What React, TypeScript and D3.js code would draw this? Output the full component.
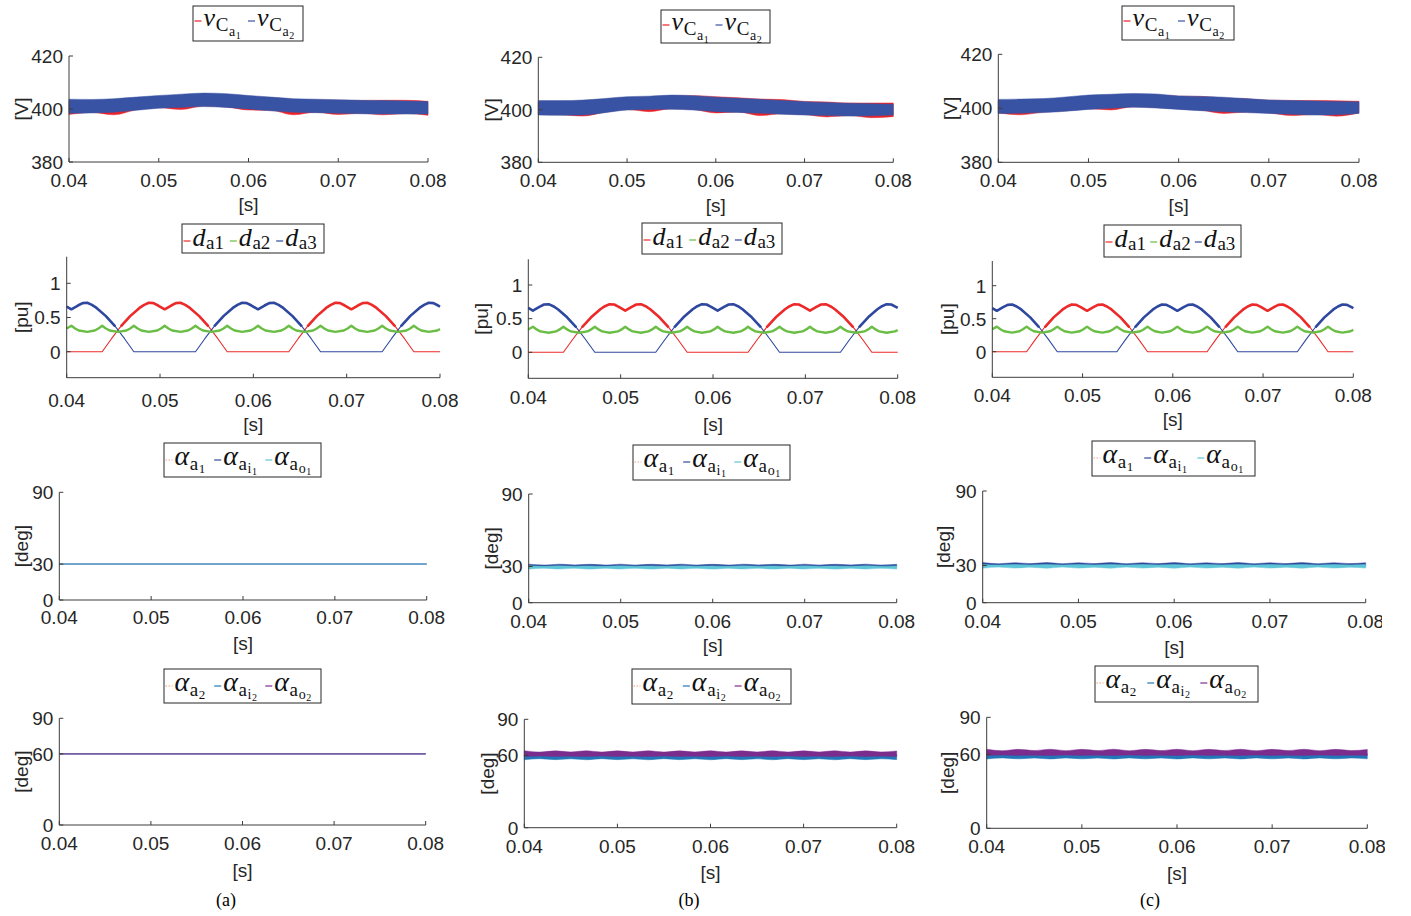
import React, { useEffect, useRef } from "react";
import * as d3 from "d3";

// ---------------- tick labels ----------------
const timeTicks = [0.04, 0.05, 0.06, 0.07, 0.08];
const voltTicks = [380, 400, 420];
const dutyTicks = [0, 0.5, 1];
const alpha1Ticks = [0, 30, 90];
const alpha2Ticks = [0, 60, 90];
const captions = ["(a)", "(b)", "(c)"];

// ---------------- capacitor voltage envelopes (every 2.5 ms) ----------------
const vTime = [0.04, 0.0425, 0.045, 0.0475, 0.05, 0.0525, 0.055, 0.0575, 0.06, 0.0625, 0.065, 0.0675, 0.07, 0.0725, 0.075, 0.0775, 0.08];
// column (a)
const vC1HiA = [403.1, 403.2, 403.4, 403.9, 404.6, 405.0, 405.4, 405.3, 404.8, 404.2, 403.6, 403.4, 403.3, 403.2, 403.3, 403.3, 402.9];
const vC1LoA = [397.9, 398.7, 397.8, 399.7, 400.5, 399.8, 401.1, 400.8, 399.6, 399.5, 397.8, 398.8, 397.9, 398.4, 397.8, 398.3, 397.6];
const vC2HiA = [403.7, 403.6, 403.9, 404.5, 405.1, 405.6, 406.0, 405.8, 405.1, 404.5, 403.9, 403.7, 403.5, 403.3, 403.2, 403.0, 402.8];
const vC2LoA = [398.4, 398.5, 398.8, 399.5, 400.3, 400.6, 400.9, 400.6, 400.0, 399.3, 398.8, 398.6, 398.4, 398.2, 398.1, 398.1, 398.1];
// column (b)
const vC1HiB = [403.0, 403.1, 403.3, 404.0, 404.6, 404.9, 405.3, 405.4, 405.0, 404.6, 404.1, 403.9, 403.2, 403.0, 402.6, 402.6, 402.6];
const vC1LoB = [398.2, 398.1, 397.6, 399.1, 400.1, 399.3, 400.4, 400.1, 398.8, 399.2, 397.8, 398.5, 398.2, 397.3, 397.8, 397.0, 397.4];
const vC2HiB = [403.5, 403.5, 403.7, 404.3, 405.0, 405.2, 405.6, 405.4, 404.8, 404.4, 404.0, 403.5, 403.1, 402.8, 402.5, 402.3, 402.1];
const vC2LoB = [398.0, 397.9, 398.0, 398.9, 399.9, 400.1, 400.2, 399.9, 399.3, 399.0, 398.7, 398.3, 398.0, 397.8, 397.6, 397.7, 398.0];
// column (c)
const vC1HiC = [402.8, 402.9, 403.1, 403.7, 404.4, 404.8, 405.1, 405.0, 404.5, 404.4, 403.8, 403.5, 403.0, 402.9, 402.9, 402.8, 402.6];
const vC1LoC = [398.3, 397.6, 398.6, 399.1, 399.8, 399.4, 400.6, 400.3, 399.8, 399.3, 398.1, 398.6, 398.3, 397.3, 397.7, 397.1, 398.3];
const vC2HiC = [403.3, 403.4, 403.6, 404.2, 404.9, 405.2, 405.5, 405.3, 404.6, 404.4, 404.1, 403.6, 403.1, 402.9, 402.7, 402.5, 402.4];
const vC2LoC = [398.1, 398.2, 398.4, 398.9, 399.6, 400.0, 400.4, 400.1, 399.6, 399.1, 398.7, 398.4, 398.1, 397.8, 397.5, 397.6, 398.1];

// ---------------- duty cycles [t, pu] ----------------
const dutyA1: [number, number][] = [
  [0.04, 0], [0.0438, 0], [0.0448, 0.19], [0.0458, 0.37], [0.0468, 0.52], [0.0478, 0.64], [0.0483, 0.685], [0.0488, 0.715],
  [0.0493, 0.71], [0.0498, 0.675], [0.0505, 0.62], [0.0512, 0.675], [0.0517, 0.71], [0.0522, 0.715], [0.0527, 0.685],
  [0.0532, 0.64], [0.0542, 0.52], [0.0552, 0.37], [0.0562, 0.19], [0.0572, 0], [0.0638, 0], [0.0648, 0.19], [0.0658, 0.37],
  [0.0668, 0.52], [0.0678, 0.64], [0.0683, 0.685], [0.0688, 0.715], [0.0693, 0.71], [0.0698, 0.675], [0.0705, 0.62],
  [0.0712, 0.675], [0.0717, 0.71], [0.0722, 0.715], [0.0727, 0.685], [0.0732, 0.64], [0.0742, 0.52], [0.0752, 0.37],
  [0.0762, 0.19], [0.0772, 0], [0.08, 0],
];
const dutyA2: [number, number][] = [
  [0.04, 0.34], [0.0405, 0.38], [0.0409, 0.34], [0.0413, 0.31], [0.0422, 0.29], [0.043, 0.31], [0.0434, 0.34], [0.0438, 0.38],
  [0.0442, 0.34], [0.0446, 0.31], [0.0455, 0.29], [0.0464, 0.31], [0.0468, 0.34], [0.0472, 0.38], [0.0476, 0.34], [0.048, 0.31],
  [0.0488, 0.29], [0.0497, 0.31], [0.0501, 0.34], [0.0505, 0.38], [0.0509, 0.34], [0.0513, 0.31], [0.0522, 0.29], [0.053, 0.31],
  [0.0534, 0.34], [0.0538, 0.38], [0.0542, 0.34], [0.0546, 0.31], [0.0555, 0.29], [0.0564, 0.31], [0.0568, 0.34], [0.0572, 0.38],
  [0.0576, 0.34], [0.058, 0.31], [0.0588, 0.29], [0.0597, 0.31], [0.0601, 0.34], [0.0605, 0.38], [0.0609, 0.34], [0.0613, 0.31],
  [0.0622, 0.29], [0.063, 0.31], [0.0634, 0.34], [0.0638, 0.38], [0.0642, 0.34], [0.0646, 0.31], [0.0655, 0.29], [0.0664, 0.31],
  [0.0668, 0.34], [0.0672, 0.38], [0.0676, 0.34], [0.068, 0.31], [0.0688, 0.29], [0.0697, 0.31], [0.0701, 0.34], [0.0705, 0.38],
  [0.0709, 0.34], [0.0713, 0.31], [0.0722, 0.29], [0.073, 0.31], [0.0734, 0.34], [0.0738, 0.38], [0.0742, 0.34], [0.0746, 0.31],
  [0.0755, 0.29], [0.0764, 0.31], [0.0768, 0.34], [0.0772, 0.38], [0.0776, 0.34], [0.078, 0.31], [0.0788, 0.29], [0.0797, 0.31],
  [0.08, 0.33],
];
const dutyA3: [number, number][] = [
  [0.04, 0.66], [0.0405, 0.62], [0.0412, 0.675], [0.0417, 0.71], [0.0422, 0.715], [0.0427, 0.685], [0.0432, 0.64], [0.0442, 0.52],
  [0.0452, 0.37], [0.0462, 0.19], [0.0472, 0], [0.0538, 0], [0.0548, 0.19], [0.0558, 0.37], [0.0568, 0.52], [0.0578, 0.64],
  [0.0583, 0.685], [0.0588, 0.715], [0.0593, 0.71], [0.0598, 0.675], [0.0605, 0.62], [0.0612, 0.675], [0.0617, 0.71],
  [0.0622, 0.715], [0.0627, 0.685], [0.0632, 0.64], [0.0642, 0.52], [0.0652, 0.37], [0.0662, 0.19], [0.0672, 0], [0.0738, 0],
  [0.0748, 0.19], [0.0758, 0.37], [0.0768, 0.52], [0.0778, 0.64], [0.0783, 0.685], [0.0788, 0.715], [0.0793, 0.71],
  [0.0798, 0.675], [0.08, 0.66],
];

// ---------------- angles ----------------
const alphaRef1: [number, number][] = [[0.04, 30], [0.08, 30]];
const alphaRef2: [number, number][] = [[0.04, 60], [0.08, 60]];
const alphaIn1A: [number, number][] = [[0.04, 30], [0.08, 30]];
const alphaOut1A: [number, number][] = [[0.04, 30], [0.08, 30]];
const alphaIn2A: [number, number][] = [[0.04, 60], [0.08, 60]];
const alphaOut2A: [number, number][] = [[0.04, 60], [0.08, 60]];

const alphaTime = [0.04, 0.04167, 0.04333, 0.045, 0.04667, 0.04833, 0.05, 0.05167, 0.05333, 0.055, 0.05667, 0.05833, 0.06, 0.06167, 0.06333, 0.065, 0.06667, 0.06833, 0.07, 0.07167, 0.07333, 0.075, 0.07667, 0.07833, 0.08];
// column (b)
const aIn1HiB = [31.9, 31.2, 31.9, 31.3, 31.8, 31.2, 31.9, 31.2, 31.8, 31.3, 31.9, 31.2, 31.8, 31.2, 31.9, 31.3, 31.8, 31.2, 31.9, 31.2, 31.8, 31.3, 31.9, 31.2, 31.8];
const aIn1LoB = [29.4, 29.7, 29.4, 29.6, 29.5, 29.7, 29.4, 29.6, 29.5, 29.7, 29.4, 29.6, 29.5, 29.7, 29.4, 29.6, 29.5, 29.7, 29.4, 29.6, 29.5, 29.7, 29.4, 29.6, 29.5];
const aOut1HiB = [30.5, 30.1, 30.5, 30.2, 30.4, 30.1, 30.5, 30.2, 30.4, 30.1, 30.5, 30.2, 30.4, 30.1, 30.5, 30.2, 30.4, 30.1, 30.5, 30.2, 30.4, 30.1, 30.5, 30.2, 30.4];
const aOut1LoB = [27.8, 28.6, 27.9, 28.5, 27.8, 28.6, 27.9, 28.5, 27.8, 28.6, 27.9, 28.5, 27.8, 28.6, 27.9, 28.5, 27.8, 28.6, 27.9, 28.5, 27.8, 28.6, 27.9, 28.5, 27.8];
const aIn2HiB = [60.7, 60.3, 60.6, 60.3, 60.7, 60.2, 60.6, 60.3, 60.7, 60.3, 60.6, 60.2, 60.7, 60.3, 60.6, 60.3, 60.7, 60.2, 60.6, 60.3, 60.7, 60.3, 60.6, 60.2, 60.6];
const aIn2LoB = [56.4, 57.3, 56.5, 57.2, 56.4, 57.3, 56.5, 57.2, 56.4, 57.3, 56.5, 57.2, 56.4, 57.3, 56.5, 57.2, 56.4, 57.3, 56.5, 57.2, 56.4, 57.3, 56.5, 57.2, 56.5];
const aOut2HiB = [63.9, 62.8, 63.8, 62.9, 63.9, 62.8, 63.8, 62.9, 63.9, 62.8, 63.8, 62.9, 63.9, 62.8, 63.8, 62.9, 63.9, 62.8, 63.8, 62.9, 63.9, 62.8, 63.8, 62.9, 63.7];
const aOut2LoB = [59.1, 59.5, 59.2, 59.4, 59.1, 59.5, 59.2, 59.4, 59.1, 59.5, 59.2, 59.4, 59.1, 59.5, 59.2, 59.4, 59.1, 59.5, 59.2, 59.4, 59.1, 59.5, 59.2, 59.4, 59.2];
// column (c)
const aIn1HiC = [32.3, 31.4, 32.2, 31.5, 32.3, 31.4, 32.2, 31.5, 32.3, 31.4, 32.2, 31.5, 32.3, 31.4, 32.2, 31.5, 32.3, 31.4, 32.2, 31.5, 32.3, 31.4, 32.2, 31.5, 32.2];
const aIn1LoC = [29.5, 29.8, 29.5, 29.7, 29.6, 29.8, 29.5, 29.7, 29.6, 29.8, 29.5, 29.7, 29.6, 29.8, 29.5, 29.7, 29.6, 29.8, 29.5, 29.7, 29.6, 29.8, 29.5, 29.7, 29.6];
const aOut1HiC = [30.8, 30.3, 30.7, 30.4, 30.8, 30.3, 30.7, 30.4, 30.8, 30.3, 30.7, 30.4, 30.8, 30.3, 30.7, 30.4, 30.8, 30.3, 30.7, 30.4, 30.8, 30.3, 30.7, 30.4, 30.7];
const aOut1LoC = [27.8, 28.7, 27.9, 28.6, 27.8, 28.7, 27.9, 28.6, 27.8, 28.7, 27.9, 28.6, 27.8, 28.7, 27.9, 28.6, 27.8, 28.7, 27.9, 28.6, 27.8, 28.7, 27.9, 28.6, 27.9];
const aIn2HiC = [60.5, 60.1, 60.4, 60.1, 60.5, 60.0, 60.4, 60.1, 60.5, 60.1, 60.4, 60.0, 60.5, 60.1, 60.4, 60.1, 60.5, 60.0, 60.4, 60.1, 60.5, 60.1, 60.4, 60.0, 60.4];
const aIn2LoC = [56.2, 57.1, 56.3, 57.0, 56.2, 57.1, 56.3, 57.0, 56.2, 57.1, 56.3, 57.0, 56.2, 57.1, 56.3, 57.0, 56.2, 57.1, 56.3, 57.0, 56.2, 57.1, 56.3, 57.0, 56.3];
const aOut2HiC = [64.1, 62.9, 64.0, 63.0, 64.1, 62.9, 64.0, 63.0, 64.1, 62.9, 64.0, 63.0, 64.1, 62.9, 64.0, 63.0, 64.1, 62.9, 64.0, 63.0, 64.1, 62.9, 64.0, 63.0, 63.9];
const aOut2LoC = [59.0, 59.4, 59.1, 59.3, 59.0, 59.4, 59.1, 59.3, 59.0, 59.4, 59.1, 59.3, 59.0, 59.4, 59.1, 59.3, 59.0, 59.4, 59.1, 59.3, 59.0, 59.4, 59.1, 59.3, 59.1];

// ---------------- styles / layout ----------------
const W = 1411;
const H = 916;
const AX = "#3c3c3c";
const TXT = "#262626";
const SANS = "'Liberation Sans', Arial, Helvetica, sans-serif";
const SERIF = "'Liberation Serif', 'Times New Roman', serif";
const C = {
  vRed: "#ea2228", vBlue: "#3953a4",
  dRed: "#ec2a2a", dGreen: "#6abd45", dBlue: "#2e48a0",
  a1Ref: "#f39a9a", a1In: "#2e4a9c", a1Out: "#5ec6d6",
  a2Ref: "#f29a70", a2In: "#2277b8", a2Out: "#7b2d8e",
};

type Box = { x: number; y: number; w: number; h: number };
type Panel = {
  kind: "v" | "d" | "a1" | "a2"; col: number;
  x0: number; x1: number; yHi: number; yLo: number; top?: number; bot?: number;
  tickBase: number; sBase: number; yLab: number; legend: Box;
};

const panels: Panel[] = [
  { kind: "v", col: 0, x0: 69, x1: 428, yHi: 56, yLo: 162, tickBase: 187, sBase: 211, yLab: 28, legend: { x: 193, y: 6, w: 110, h: 35 } },
  { kind: "d", col: 0, x0: 66.7, x1: 440, yHi: 283.3, yLo: 351.7, top: 256.7, bot: 377.7, tickBase: 406.5, sBase: 431, yLab: 28.2, legend: { x: 182, y: 224, w: 142, h: 29 } },
  { kind: "a1", col: 0, x0: 59.3, x1: 426.7, yHi: 492.3, yLo: 600, tickBase: 624, sBase: 650, yLab: 27.6, legend: { x: 164, y: 443, w: 157, h: 34 } },
  { kind: "a2", col: 0, x0: 59.3, x1: 425.7, yHi: 718.3, yLo: 825, tickBase: 850, sBase: 876.5, yLab: 27.6, legend: { x: 164, y: 669, w: 157, h: 34 } },
  { kind: "v", col: 1, x0: 538.3, x1: 893.3, yHi: 57.3, yLo: 162.3, tickBase: 187.3, sBase: 212, yLab: 497.6, legend: { x: 661, y: 10, w: 109, h: 33 } },
  { kind: "d", col: 1, x0: 528.3, x1: 897.7, yHi: 285, yLo: 352.3, top: 259.3, bot: 378.3, tickBase: 404.3, sBase: 431, yLab: 487.6, legend: { x: 642, y: 223, w: 140, h: 31 } },
  { kind: "a1", col: 1, x0: 528.7, x1: 896.7, yHi: 494, yLo: 602.7, tickBase: 628.3, sBase: 652, yLab: 497.6, legend: { x: 633, y: 445, w: 157, h: 35 } },
  { kind: "a2", col: 1, x0: 524.3, x1: 896.7, yHi: 719.3, yLo: 827.7, tickBase: 853.3, sBase: 878.5, yLab: 494, legend: { x: 632, y: 669, w: 159, h: 35 } },
  { kind: "v", col: 2, x0: 998.3, x1: 1359, yHi: 54.3, yLo: 162.3, tickBase: 186.7, sBase: 212, yLab: 957, legend: { x: 1122, y: 6, w: 112, h: 34 } },
  { kind: "d", col: 2, x0: 992.3, x1: 1353.3, yHi: 285.7, yLo: 351.7, top: 261, bot: 377.3, tickBase: 401.7, sBase: 426, yLab: 954, legend: { x: 1104, y: 225, w: 137, h: 32 } },
  { kind: "a1", col: 2, x0: 982.7, x1: 1365.7, yHi: 491, yLo: 602.7, tickBase: 628.3, sBase: 654, yLab: 950, legend: { x: 1092, y: 441, w: 163, h: 35 } },
  { kind: "a2", col: 2, x0: 986.7, x1: 1367.3, yHi: 717.3, yLo: 828.3, tickBase: 852.7, sBase: 880, yLab: 954, legend: { x: 1095, y: 666, w: 163, h: 36 } },
];
const captionX = [226, 689, 1150];

type Part = [string, boolean, number, number]; // text, italic, size, dy
type Entry = { color: string; dash?: string; parts: Part[] };

const vLegend: Entry[] = [
  { color: C.vRed, parts: [["v", true, 26, 0], ["C", false, 19, 5], ["a", false, 14, 5], ["1", false, 10, 2.5]] },
  { color: C.vBlue, parts: [["v", true, 26, 0], ["C", false, 19, 5], ["a", false, 14, 5], ["2", false, 10, 2.5]] },
];
const dLegend: Entry[] = [
  { color: C.dRed, parts: [["d", true, 26, 0], ["a1", false, 19, 3]] },
  { color: C.dGreen, parts: [["d", true, 26, 0], ["a2", false, 19, 3]] },
  { color: C.dBlue, parts: [["d", true, 26, 0], ["a3", false, 19, 3]] },
];
const a1Legend: Entry[] = [
  { color: C.a1Ref, dash: "1.5,1.5", parts: [["α", true, 28, 0], ["a", false, 19, 5], ["1", false, 13, 3]] },
  { color: C.a1In, parts: [["α", true, 28, 0], ["a", false, 19, 5], ["i", false, 14, 3], ["1", false, 10, 2]] },
  { color: C.a1Out, parts: [["α", true, 28, 0], ["a", false, 19, 5], ["o", false, 14, 3], ["1", false, 10, 2]] },
];
const a2Legend: Entry[] = [
  { color: C.a2Ref, dash: "1.5,1.5", parts: [["α", true, 28, 0], ["a", false, 19, 5], ["2", false, 13, 3]] },
  { color: C.a2In, parts: [["α", true, 28, 0], ["a", false, 19, 5], ["i", false, 14, 3], ["2", false, 10, 2]] },
  { color: C.a2Out, parts: [["α", true, 28, 0], ["a", false, 19, 5], ["o", false, 14, 3], ["2", false, 10, 2]] },
];

function zipBand(t: number[], hi: number[], lo: number[]) {
  return t.map((tt, i) => ({ t: tt, hi: hi[i], lo: lo[i] }));
}

export default function App() {
  const ref = useRef<SVGSVGElement>(null);

  useEffect(() => {
    const svg = d3.select(ref.current as SVGSVGElement);
    svg.selectAll("*").remove();
    svg.append("rect").attr("width", W).attr("height", H).attr("fill", "#fff");

    const vBands = [
      [zipBand(vTime, vC1HiA, vC1LoA), zipBand(vTime, vC2HiA, vC2LoA)],
      [zipBand(vTime, vC1HiB, vC1LoB), zipBand(vTime, vC2HiB, vC2LoB)],
      [zipBand(vTime, vC1HiC, vC1LoC), zipBand(vTime, vC2HiC, vC2LoC)],
    ];
    const a1Bands = [
      null,
      [zipBand(alphaTime, aIn1HiB, aIn1LoB), zipBand(alphaTime, aOut1HiB, aOut1LoB)],
      [zipBand(alphaTime, aIn1HiC, aIn1LoC), zipBand(alphaTime, aOut1HiC, aOut1LoC)],
    ];
    const a2Bands = [
      null,
      [zipBand(alphaTime, aIn2HiB, aIn2LoB), zipBand(alphaTime, aOut2HiB, aOut2LoB)],
      [zipBand(alphaTime, aIn2HiC, aIn2LoC), zipBand(alphaTime, aOut2HiC, aOut2LoC)],
    ];

    panels.forEach((p) => {
      const g = svg.append("g");
      const x = d3.scaleLinear().domain([0.04, 0.08]).range([p.x0, p.x1]);
      let y: d3.ScaleLinear<number, number>;
      let yTicks: number[];
      let yName: string;
      if (p.kind === "v") { y = d3.scaleLinear().domain([380, 420]).range([p.yLo, p.yHi]); yTicks = voltTicks; yName = "[V]"; }
      else if (p.kind === "d") { y = d3.scaleLinear().domain([0, 1]).range([p.yLo, p.yHi]); yTicks = dutyTicks; yName = "[pu]"; }
      else { y = d3.scaleLinear().domain([0, 90]).range([p.yLo, p.yHi]); yTicks = p.kind === "a1" ? alpha1Ticks : alpha2Ticks; yName = "[deg]"; }
      const axTop = p.top ?? p.yHi;
      const axBot = p.bot ?? p.yLo;

      const plot = g.append("g");
      const area = d3.area<{ t: number; hi: number; lo: number }>()
        .x((d) => x(d.t)).y0((d) => y(d.lo)).y1((d) => y(d.hi)).curve(d3.curveMonotoneX);
      const line = d3.line<[number, number]>().x((d) => x(d[0])).y((d) => y(d[1]));

      const drawBand = (data: { t: number; hi: number; lo: number }[], color: string) => {
        plot.append("path").attr("d", area(data) as string).attr("fill", color)
          .attr("stroke", color).attr("stroke-width", 0.8).attr("stroke-opacity", 0.6);
      };
      const drawLine = (data: [number, number][], color: string, w: number, dash?: string) => {
        const path = plot.append("path").attr("d", line(data) as string).attr("fill", "none")
          .attr("stroke", color).attr("stroke-width", w).attr("stroke-linejoin", "round");
        if (dash) path.attr("stroke-dasharray", dash);
      };

      if (p.kind === "v") {
        const [b1, b2] = vBands[p.col];
        drawBand(b1, C.vRed);
        drawBand(b2, C.vBlue);
      } else if (p.kind === "d") {
        const thick = d3.line<[number, number]>().x((d) => x(d[0])).y((d) => y(d[1])).defined((d) => d[1] >= 0.37);
        drawLine(dutyA1, C.dRed, 1.1);
        plot.append("path").attr("d", thick(dutyA1) as string).attr("fill", "none").attr("stroke", C.dRed).attr("stroke-width", 2.6).attr("stroke-linejoin", "round");
        drawLine(dutyA3, C.dBlue, 1.1);
        plot.append("path").attr("d", thick(dutyA3) as string).attr("fill", "none").attr("stroke", C.dBlue).attr("stroke-width", 2.6).attr("stroke-linejoin", "round");
        drawLine(dutyA2, C.dGreen, 2.4);
      } else if (p.kind === "a1") {
        drawLine(alphaRef1, C.a1Ref, 1, "2,2");
        const bands = a1Bands[p.col];
        if (bands) { drawBand(bands[0], C.a1In); drawBand(bands[1], C.a1Out); }
        else { drawLine(alphaIn1A, "#4f74b8", 1.6); drawLine(alphaOut1A, "#7cc4dc", 1); }
      } else {
        drawLine(alphaRef2, C.a2Ref, 1, "2,2");
        const bands = a2Bands[p.col];
        if (bands) { drawBand(bands[0], C.a2In); drawBand(bands[1], C.a2Out); }
        else { drawLine(alphaIn2A, C.a2In, 1.4); drawLine(alphaOut2A, "#8a4c9c", 1.1); }
      }

      // axes (box off: left + bottom)
      g.append("line").attr("x1", p.x0).attr("x2", p.x0).attr("y1", axTop).attr("y2", axBot).attr("stroke", AX).attr("stroke-width", 1);
      g.append("line").attr("x1", p.x0).attr("x2", p.x1).attr("y1", axBot).attr("y2", axBot).attr("stroke", AX).attr("stroke-width", 1);
      timeTicks.forEach((t) => {
        g.append("line").attr("x1", x(t)).attr("x2", x(t)).attr("y1", axBot).attr("y2", axBot - 4).attr("stroke", AX).attr("stroke-width", 1);
        g.append("text").attr("x", x(t)).attr("y", p.tickBase).attr("text-anchor", "middle")
          .attr("font-family", SANS).attr("font-size", 19).attr("fill", TXT).text(t.toFixed(2));
      });
      yTicks.forEach((v) => {
        g.append("line").attr("x1", p.x0).attr("x2", p.x0 + 4).attr("y1", y(v)).attr("y2", y(v)).attr("stroke", AX).attr("stroke-width", 1);
        g.append("text").attr("x", p.x0 - 6).attr("y", y(v)).attr("dy", "0.36em").attr("text-anchor", "end")
          .attr("font-family", SANS).attr("font-size", 19).attr("fill", TXT).text(String(v));
      });
      g.append("text").attr("x", (p.x0 + p.x1) / 2).attr("y", p.sBase).attr("text-anchor", "middle")
        .attr("font-family", SANS).attr("font-size", 19).attr("fill", TXT).text("[s]");
      g.append("text").attr("transform", `translate(${p.yLab},${(axTop + axBot) / 2}) rotate(-90)`)
        .attr("text-anchor", "middle").attr("font-family", SANS).attr("font-size", 19).attr("fill", TXT).text(yName);

      // legend
      const entries = p.kind === "v" ? vLegend : p.kind === "d" ? dLegend : p.kind === "a1" ? a1Legend : a2Legend;
      const base = p.kind === "v" ? 20 : 22;
      const lg = g.append("g");
      const b = p.legend;
      lg.append("rect").attr("x", b.x).attr("y", b.y).attr("width", b.w).attr("height", b.h)
        .attr("fill", "#fff").attr("stroke", "#262626").attr("stroke-width", 1);
      const texts = entries.map((e) => {
        const t = lg.append("text").attr("y", b.y + base).attr("fill", "#111");
        e.parts.forEach((pt, i) => {
          t.append("tspan").attr("font-family", SERIF).attr("font-style", pt[1] ? "italic" : "normal")
            .attr("font-size", pt[2]).attr("dy", pt[3]).attr("dx", i > 0 ? 0.6 : 0).text(pt[0]);
        });
        return t;
      });
      const widths = texts.map((t) => (t.node() as SVGTextElement).getComputedTextLength());
      const lineLen = 7;
      const afterLine = 2;
      const content = d3.sum(widths) + entries.length * (lineLen + afterLine);
      const gap = Math.max(0, (b.w - 3 - content) / entries.length);
      let cx = b.x + 1.5;
      entries.forEach((e, i) => {
        const ln = lg.append("line").attr("x1", cx).attr("x2", cx + lineLen).attr("y1", b.y + base - 5).attr("y2", b.y + base - 5)
          .attr("stroke", e.color).attr("stroke-width", 1.2);
        if (e.dash) ln.attr("stroke-dasharray", e.dash);
        texts[i].attr("x", cx + lineLen + afterLine);
        cx += lineLen + afterLine + widths[i] + gap;
      });
    });

    // clipped right edge of the original figure
    svg.append("rect").attr("x", 1382).attr("y", 605).attr("width", 40).attr("height", 35).attr("fill", "#fff");
    svg.append("rect").attr("x", 1385).attr("y", 832).attr("width", 40).attr("height", 30).attr("fill", "#fff");

    captions.forEach((c, i) => {
      svg.append("text").attr("x", captionX[i]).attr("y", 906).attr("text-anchor", "middle")
        .attr("font-family", SERIF).attr("font-size", 18).attr("fill", "#000").text(c);
    });
  }, []);

  return (
    <div style={{ position: "absolute", left: 0, top: 0, width: W, height: H, background: "#fff" }}>
      <svg ref={ref} width={W} height={H} style={{ display: "block" }} />
    </div>
  );
}
